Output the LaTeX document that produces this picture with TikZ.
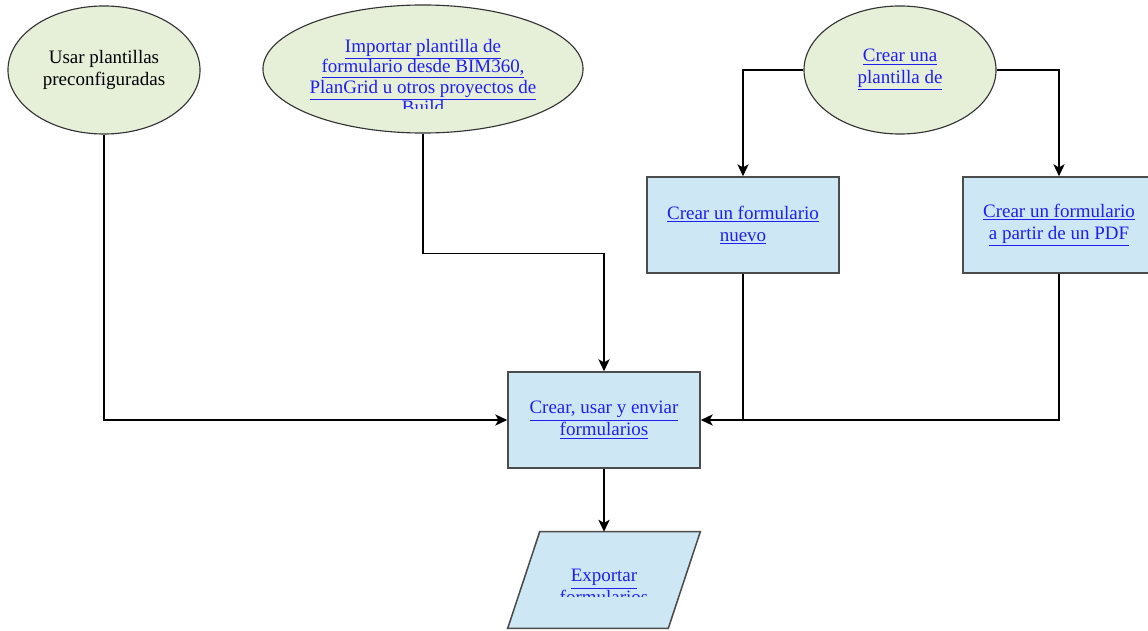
\documentclass[tikz,border=0pt]{standalone}
\usepackage{fontspec}
\setmainfont{Liberation Serif}
\usetikzlibrary{arrows.meta,shapes.geometric}
\definecolor{ovalfill}{HTML}{E6EFD8}
\definecolor{boxfill}{HTML}{CDE8F4}
\definecolor{linkblue}{HTML}{1F1FEE}
\newcommand{\lnk}[1]{\textcolor{linkblue}{\underline{#1}}}

\begin{document}
\begin{tikzpicture}[
  x=0.025cm, y=-0.025cm,
  font=\fontsize{13.5}{15.5}\selectfont,
  >={Stealth[length=8.5pt,width=8pt,inset=2.2pt]},
  oval/.style={ellipse, draw=black!80, fill=ovalfill, line width=0.8pt, minimum width=4.8cm, minimum height=3.2cm, inner sep=0pt, align=center},
  card/.style={rectangle, draw=black!70, fill=boxfill, line width=1.1pt, minimum width=4.8cm, minimum height=2.4cm, align=center},
  outbox/.style={rectangle, minimum width=4cm, minimum height=2.4cm, inner sep=0pt},
  slant/.style={draw=black!70, fill=boxfill, line width=1.1pt},
  wire/.style={->, line width=0.9pt}
]
\useasboundingbox (0,0) rectangle (1148,630);
% starting points
\node[oval] (usar) at (104,70) {Usar plantillas\\preconfiguradas};
\node[oval, minimum width=8cm] (importar) at (423,69) {};
\begin{scope}
  \clip (263,20) rectangle (583,109);
  \node[align=center, font=\fontsize{13.5}{14.6}\selectfont] (importartxt) at (423,78)
    {\lnk{Importar plantilla de}\\\lnk{formulario desde BIM360,}\\\lnk{PlanGrid u otros proyectos de}\\\lnk{Build}};
\end{scope}
\node[oval] (plantilla) at (900,70) {\lnk{Crear una}\\\lnk{plantilla de}};
% forms
\node[card] (nuevo) at (743,225) {\lnk{Crear un formulario}\\\lnk{nuevo}};
\node[card] (pdf) at (1059,225) {\lnk{Crear un formulario}\\\lnk{a partir de un PDF}};
\node[card] (enviar) at (604,420) {\lnk{Crear, usar y enviar}\\\lnk{formularios}};
\node[outbox] (exportar) at (604,580) {};
\draw[slant] ([xshift=0.4cm]exportar.north west) -- ([xshift=0.4cm]exportar.north east)
  -- ([xshift=-0.4cm]exportar.south east) -- ([xshift=-0.4cm]exportar.south west) -- cycle;
\begin{scope}
  \clip (508,540) rectangle (700,596);
  \node[align=center] (exportartxt) at (604,588) {\lnk{Exportar}\\\lnk{formularios}};
\end{scope}
% connectors
\draw[wire] (usar.south) |- (enviar.west);
\draw[wire] (importar.south) -- ++(0,120) -| (enviar.north);
\draw[wire] (plantilla.west) -| (nuevo.north);
\draw[wire] (plantilla.east) -| (pdf.north);
\draw[line width=0.9pt] (nuevo.south) -- (nuevo.south |- enviar.east);
\draw[wire] (pdf.south) |- (enviar.east);
\draw[wire] (enviar.south) -- (exportar.north);
\end{tikzpicture}
\end{document}
